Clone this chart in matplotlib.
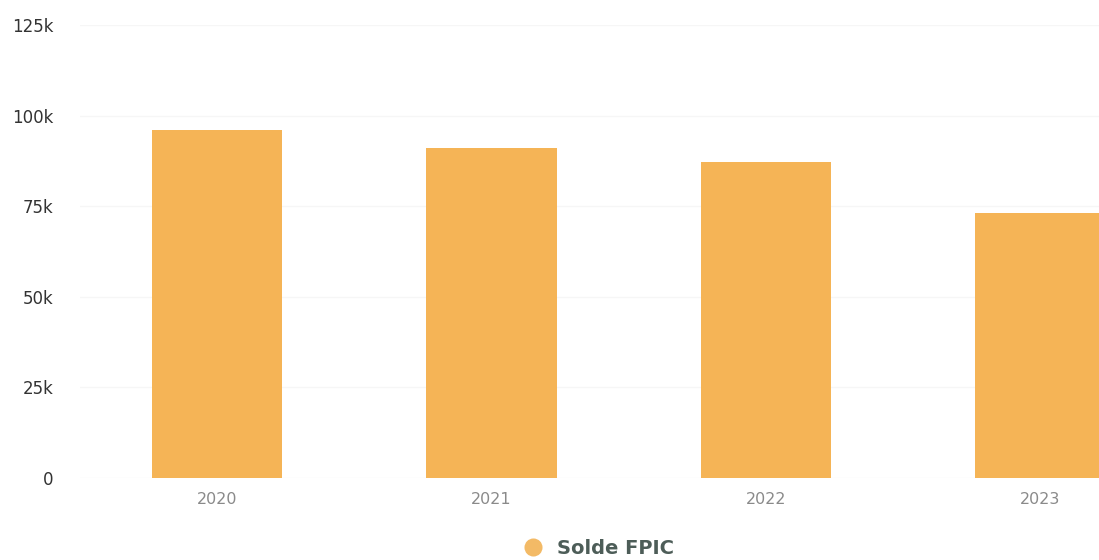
import matplotlib
matplotlib.use("Agg")
import matplotlib.pyplot as plt
from matplotlib.lines import Line2D
from matplotlib.ticker import FuncFormatter

years = ["2020", "2021", "2022", "2023"]
solde_fpic = [96000, 91000, 87300, 73200]
y_ticks = [0, 25000, 50000, 75000, 100000, 125000]
series_name = "Solde FPIC"

bar_color = "#F5B456"
fig = plt.figure(figsize=(10.99, 5.6), dpi=100)
ax = fig.add_axes([80 / 1099, 82 / 560, 1 - 80 / 1099, 453 / 560])

x = list(range(len(years)))
ax.bar(x, solde_fpic, width=0.475, color=bar_color, zorder=2)

ax.set_ylim(0, 125000)
ax.set_xlim(-0.5, 3.213)
ax.set_yticks(y_ticks)
ax.yaxis.set_major_formatter(FuncFormatter(lambda v, _: "0" if v == 0 else f"{int(v / 1000)}k"))
ax.set_xticks(x)
ax.set_xticklabels(years)

ax.grid(axis="y", color="#f6f6f6", linewidth=1, zorder=0)
for s in ax.spines.values():
    s.set_visible(False)
ax.tick_params(axis="y", length=0, pad=19, labelsize=12, labelcolor="#333333")
ax.tick_params(axis="x", length=0, pad=10, labelsize=11.5, labelcolor="#8a8a8a")

handle = Line2D([], [], marker="o", linestyle="none", markersize=13,
                markerfacecolor="#F3BA66", markeredgecolor="none")
fig.legend([handle], [series_name], loc="center",
           bbox_to_anchor=(594 / 1099, 12 / 560), frameon=False,
           handletextpad=0.25, prop={"weight": "bold", "size": 14},
           labelcolor="#4d5d58")

fig.savefig("out.png", dpi=100)
